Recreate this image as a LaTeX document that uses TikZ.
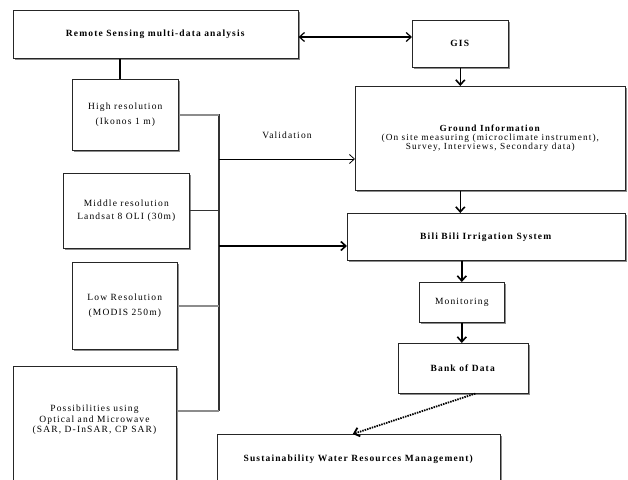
\documentclass[tikz,border=0pt]{standalone}
\usepackage{fontspec}
\setmainfont{Liberation Serif}[LetterSpace=12]
\usetikzlibrary{arrows.meta,shadows}
\tikzset{
  box/.style={draw=black!85, line width=0.6pt, fill=white, anchor=north west, inner sep=0pt,
    align=center, font=\fontsize{9.5}{11}\selectfont,
    drop shadow={shadow xshift=1.6pt, shadow yshift=-1.6pt, fill=black!45, opacity=1}},
  bus/.style={draw=black!80, line width=1.2pt},
  feed/.style={draw=black!45, line width=2pt},
  flow/.style={draw=black, line width=1.6pt, -{Straight Barb[length=5pt,width=9pt]}},
  thinflow/.style={draw=black, line width=0.8pt, -{Straight Barb[length=5pt,width=9pt]}},
  txt/.style={align=center, inner sep=0pt, font=\fontsize{9.5}{10.5}\selectfont},
}
\begin{document}
\begin{tikzpicture}[x=1pt,y=-1pt]
\useasboundingbox (0,0) rectangle (628,479);
\clip (0,0) rectangle (628,479);
\fill[white] (0,0) rectangle (628,479);

% right column
\node[box, minimum width=285, minimum height=48] (rs) at (13,10) {\textbf{Remote Sensing multi-data analysis}};
\node[box, minimum width=96, minimum height=47] (gis) at (412,20) {\textbf{GIS}};
\node[box, minimum width=270, minimum height=104, font=\fontsize{9.3}{9.3}\selectfont] (gi) at (355,86)
  {\textbf{Ground Information}\\(On site measuring (microclimate instrument),\\Survey, Interviews, Secondary data)};
\node[box, minimum width=278, minimum height=47] (bb) at (347,213) {\textbf{Bili Bili Irrigation System}};
\node[box, minimum width=85, minimum height=40] (mon) at (419,282) {Monitoring};
\node[box, minimum width=130, minimum height=50] (bank) at (398,343) {\textbf{Bank of Data}};
\node[box, minimum width=283, minimum height=50] (sus) at (217,434) {\textbf{Sustainability Water Resources Management)}};

% left column
\node[box, minimum width=106, minimum height=71, font=\fontsize{9.5}{15}\selectfont] (hr) at (72,79) {High resolution\\(Ikonos 1 m)};
\node[box, minimum width=126, minimum height=75, font=\fontsize{9.5}{13}\selectfont] (mr) at (63,173) {Middle resolution\\Landsat 8 OLI (30m)};
\node[box, minimum width=105, minimum height=87, font=\fontsize{9.5}{15}\selectfont] (lr) at (72,262) {Low Resolution\\(MODIS 250m)};
\node[box, minimum width=163, minimum height=120] (pos) at (13,366) {};
\node[txt] (post) at (94.5,420) {Possibilities using\\Optical and Microwave\\(SAR, D-InSAR, CP SAR)};

% bus
\coordinate (btop) at (219,114);
\coordinate (bbot) at (219,411);
\coordinate (v1) at (219,159);
\coordinate (v2) at (219,246);
\draw[bus] (btop) -- (bbot);
\draw[feed] (hr.east) -- (hr.east -| btop);
\draw[bus] (mr.east) -- (mr.east -| btop);
\draw[feed] (lr.east) -- (lr.east -| btop);
\draw[feed] (bbot -| pos.east) -- (bbot);
\draw[thinflow] (v1) -- (v1 -| gi.west);
\draw[flow] (v2) -- (v2 -| bb.west);
\node[font=\fontsize{9.5}{11}\selectfont, inner sep=0pt] (val) at (287,135) {Validation};

% top links
\coordinate (d) at (0,37);
\draw[line width=1.2pt, {Straight Barb[length=5pt,width=9pt]}-{Straight Barb[length=5pt,width=9pt]}] (d -| rs.east) -- (d -| gis.west);
\coordinate (c) at (120,0);
\draw[line width=1.8pt] (c |- rs.south) -- (c |- hr.north);

% right flow
\draw[flow] (gis.south) -- (gis.south |- gi.north);
\draw[flow] (gis.south |- gi.south) -- (gis.south |- bb.north);
\draw[flow] (mon.north |- bb.south) -- (mon.north);
\draw[flow] (mon.south) -- (mon.south |- bank.north);
\draw[line width=1.8pt, dash pattern=on 1.5pt off 1pt, -{Straight Barb[length=5pt,width=9pt]}] ([xshift=12pt]bank.south) -- ([xshift=-6pt]sus.north);
\end{tikzpicture}
\end{document}
